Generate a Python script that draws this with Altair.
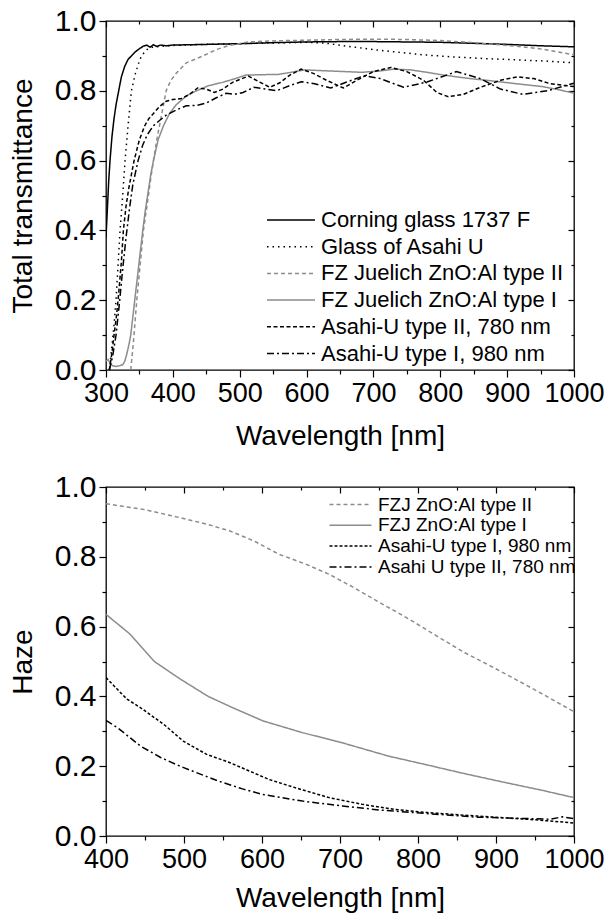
import altair as alt
import pandas as pd

FONT = "Liberation Sans"

# ---------------- Top panel: total transmittance ----------------
top_labels = ["Corning glass 1737 F", "Glass of Asahi U", "FZ Juelich ZnO:Al type II",
              "FZ Juelich ZnO:Al type I", "Asahi-U type II, 780 nm", "Asahi-U type I, 980 nm"]
top_colors = ["#000000", "#000000", "#8c8c8c", "#8c8c8c", "#000000", "#000000"]
top_dashes = [[1, 0], [1.5, 4], [4, 3], [1, 0], [4, 2.5], [7, 3, 2, 3]]

corning_wl = [300, 302, 304, 306, 309, 312, 315, 319, 323, 328, 333, 338, 344, 351, 356, 361, 366, 371,
              376, 381, 390, 400, 450, 500, 550, 600, 650, 700, 750, 800, 850, 900, 950, 1000]
corning_t = [0.38, 0.46, 0.54, 0.60, 0.67, 0.72, 0.76, 0.80, 0.84, 0.87, 0.89, 0.90, 0.912, 0.922, 0.928,
             0.931, 0.925, 0.932, 0.927, 0.931, 0.929, 0.931, 0.933, 0.935, 0.938, 0.940, 0.941, 0.941,
             0.940, 0.939, 0.936, 0.933, 0.929, 0.926]

asahi_glass_wl = [305, 309, 312, 315, 318, 321, 325, 328.5, 333, 338, 344, 349, 353, 361, 370, 385, 400,
                  450, 500, 550, 600, 627, 660, 700, 740, 775, 820, 870, 923, 960, 1000]
asahi_glass_t = [0.0, 0.07, 0.13, 0.2, 0.3, 0.4, 0.5, 0.6, 0.7, 0.8, 0.85, 0.88, 0.9, 0.918, 0.925, 0.928,
                 0.93, 0.933, 0.935, 0.937, 0.939, 0.937, 0.928, 0.918, 0.91, 0.903, 0.897, 0.892, 0.888,
                 0.885, 0.88]

fzj2_wl = [337, 341, 346, 351, 356, 362, 367, 371, 376, 380, 385, 390, 397, 405, 420, 445, 465, 484, 513,
           550, 600, 650, 700, 750, 800, 850, 900, 923, 950, 975, 1000]
fzj2_t = [0.0, 0.08, 0.2, 0.3, 0.4, 0.48, 0.55, 0.6, 0.66, 0.7, 0.75, 0.8, 0.83, 0.85, 0.88, 0.9, 0.918,
          0.93, 0.94, 0.943, 0.945, 0.947, 0.948, 0.947, 0.944, 0.938, 0.93, 0.926, 0.92, 0.912, 0.903]

fzj1_wl = [300, 303, 306, 310, 315, 320, 325, 328, 331, 334, 337, 340, 343, 346, 349, 352, 355, 359, 363,
           367, 371, 378, 386, 395, 405, 420, 435, 454, 474, 490, 509, 530, 558, 580, 597, 620, 657, 682,
           705, 731, 755, 780, 805, 840, 879, 915, 953, 980, 1000]
fzj1_t = [0.025, 0.03, 0.02, 0.012, 0.01, 0.012, 0.015, 0.025, 0.045, 0.07, 0.1, 0.15, 0.2, 0.25, 0.3,
          0.35, 0.4, 0.46, 0.51, 0.56, 0.6, 0.66, 0.7, 0.735, 0.76, 0.785, 0.8, 0.815, 0.824, 0.833, 0.845,
          0.846, 0.847, 0.854, 0.86, 0.858, 0.855, 0.853, 0.856, 0.862, 0.86, 0.853, 0.845, 0.836, 0.828,
          0.82, 0.812, 0.802, 0.793]

asahi780_wl = [305, 309, 312, 316, 319, 323, 326, 330, 334, 338, 342, 350, 358, 364, 371, 380, 390, 400,
               413, 425, 437, 450, 462, 475, 490, 513, 530, 545, 560, 575, 592, 610, 630, 655, 675, 700,
               726, 750, 775, 795, 812, 835, 860, 890, 915, 940, 965, 1000]
asahi780_t = [0.0, 0.05, 0.1, 0.16, 0.22, 0.31, 0.4, 0.47, 0.52, 0.56, 0.6, 0.66, 0.7, 0.72, 0.735, 0.755,
              0.77, 0.775, 0.778, 0.79, 0.808, 0.805, 0.795, 0.805, 0.825, 0.842, 0.825, 0.81, 0.823, 0.845,
              0.862, 0.85, 0.83, 0.808, 0.83, 0.855, 0.867, 0.855, 0.83, 0.795, 0.783, 0.79, 0.81, 0.83,
              0.84, 0.835, 0.82, 0.812]

asahi980_wl = [305, 310, 315, 320, 325, 330, 335, 340, 348, 355, 362, 371, 380, 390, 405, 420, 435, 450,
               465, 480, 492, 505, 521, 538, 555, 575, 592, 612, 636, 660, 686, 710, 745, 780, 824, 860,
               890, 923, 960, 1000]
asahi980_t = [0.0, 0.04, 0.1, 0.19, 0.29, 0.38, 0.46, 0.53, 0.6, 0.645, 0.675, 0.7, 0.715, 0.73, 0.745,
              0.757, 0.758, 0.765, 0.78, 0.793, 0.79, 0.795, 0.81, 0.805, 0.8, 0.815, 0.826, 0.82, 0.808,
              0.825, 0.843, 0.835, 0.81, 0.825, 0.855, 0.835, 0.805, 0.79, 0.8, 0.822]

# ---------------- Bottom panel: haze ----------------
bot_labels = ["FZJ ZnO:Al type II", "FZJ ZnO:Al type I", "Asahi-U type I, 980 nm", "Asahi U type II, 780 nm"]
bot_colors = ["#8c8c8c", "#8c8c8c", "#000000", "#000000"]
bot_dashes = [[4, 3], [1, 0], [3, 2], [7, 3, 2, 3]]

b_fzj2_wl = [400, 450, 495, 530, 559, 590, 622, 655, 686, 715, 742, 770, 797, 830, 860, 888, 920, 957, 1000]
b_fzj2_h = [0.952, 0.935, 0.912, 0.893, 0.874, 0.845, 0.807, 0.78, 0.75, 0.715, 0.68, 0.645, 0.61, 0.565,
            0.525, 0.493, 0.455, 0.41, 0.356]

b_fzj1_wl = [400, 430, 462, 495, 531, 560, 601, 652, 703, 762, 813, 855, 906, 959, 1000]
b_fzj1_h = [0.635, 0.58, 0.5, 0.45, 0.4, 0.37, 0.33, 0.296, 0.267, 0.229, 0.203, 0.181, 0.156, 0.131, 0.11]

b_asahi980_wl = [400, 419, 427, 444, 474, 499, 529, 559, 584, 609, 643, 686, 728, 770, 813, 876, 940, 975, 1000]
b_asahi980_h = [0.454, 0.41, 0.392, 0.368, 0.32, 0.272, 0.234, 0.21, 0.186, 0.162, 0.138, 0.11, 0.091,
                0.076, 0.067, 0.057, 0.048, 0.042, 0.037]

b_asahi780_wl = [400, 415, 444, 470, 495, 520, 546, 575, 601, 652, 703, 753, 813, 876, 940, 970, 985, 1000]
b_asahi780_h = [0.331, 0.31, 0.258, 0.225, 0.2, 0.178, 0.156, 0.135, 0.119, 0.1, 0.086, 0.074, 0.064,
                0.054, 0.05, 0.048, 0.055, 0.05]

y_major = [0.0, 0.2, 0.4, 0.6, 0.8, 1.0]
y_minor = [0.1, 0.3, 0.5, 0.7, 0.9]
top_x_major = [300, 400, 500, 600, 700, 800, 900, 1000]
top_x_minor = [350, 450, 550, 650, 750, 850, 950]
bot_x_major = [400, 500, 600, 700, 800, 900, 1000]
bot_x_minor = [450, 550, 650, 750, 850, 950]


def long_frame(pairs, labels, key):
    rows = []
    for (wl, v), lab in zip(pairs, labels):
        for a, b in zip(wl, v):
            rows.append({"wl": a, "val": b, key: lab})
    return pd.DataFrame(rows)


df_top = long_frame([(corning_wl, corning_t), (asahi_glass_wl, asahi_glass_t), (fzj2_wl, fzj2_t),
                     (fzj1_wl, fzj1_t), (asahi780_wl, asahi780_t), (asahi980_wl, asahi980_t)],
                    top_labels, "sample")
df_bot = long_frame([(b_fzj2_wl, b_fzj2_h), (b_fzj1_wl, b_fzj1_h), (b_asahi980_wl, b_asahi980_h),
                     (b_asahi780_wl, b_asahi780_h)], bot_labels, "film")

W, H = 468, 349


def panel(df, key, labels, colors, dashes, xdom, xmaj, xmin, ytitle, leg, xtitle_pad):
    xs = alt.Scale(domain=xdom, nice=False, zero=False)
    ys = alt.Scale(domain=[0, 1], nice=False, zero=False)
    base = alt.Chart(df)
    lines = base.mark_line(strokeWidth=1.5, clip=True).encode(
        x=alt.X("wl:Q", scale=xs,
                axis=alt.Axis(orient="bottom", values=xmaj, tickSize=7, title="Wavelength [nm]",
                              labelPadding=3, titlePadding=xtitle_pad, format="d")),
        y=alt.Y("val:Q", scale=ys,
                axis=alt.Axis(orient="left", values=y_major, tickSize=7, title=ytitle, format=".1f",
                              labelPadding=3, titlePadding=17, labelFontSize=30)),
        color=alt.Color(f"{key}:N", scale=alt.Scale(domain=labels, range=colors), legend=leg),
        strokeDash=alt.StrokeDash(f"{key}:N", scale=alt.Scale(domain=labels, range=dashes), legend=leg),
    )

    def ax_layer(xaxis, yaxis):
        return base.mark_line(strokeOpacity=0).encode(
            x=alt.X("wl:Q", scale=xs, axis=xaxis),
            y=alt.Y("val:Q", scale=ys, axis=yaxis),
            detail=f"{key}:N",
        )

    l_minor = ax_layer(alt.Axis(orient="bottom", values=xmin, tickSize=4, labels=False, title=None),
                       alt.Axis(orient="left", values=y_minor, tickSize=4, labels=False, title=None))
    l_mirror = ax_layer(
        alt.Axis(orient="top", values=xmaj, tickSize=alt.ExprRef(expr="-6"), labels=False, title=None,
                 minExtent=0),
        alt.Axis(orient="right", values=y_major, tickSize=alt.ExprRef(expr="-6"), labels=False, title=None,
                 minExtent=0))
    l_mirror_minor = ax_layer(
        alt.Axis(orient="top", values=xmin, tickSize=alt.ExprRef(expr="-3"), labels=False, title=None,
                 minExtent=0),
        alt.Axis(orient="right", values=y_minor, tickSize=alt.ExprRef(expr="-3"), labels=False, title=None,
                 minExtent=0))
    return alt.layer(lines, l_minor, l_mirror, l_mirror_minor).resolve_axis(
        x="independent", y="independent").properties(width=W, height=H)


top_leg = alt.Legend(title=None, orient="none", legendX=174, legendY=188, symbolType="M-4.8,0H4.8",
                     symbolSize=100, symbolStrokeWidth=1.5, labelFontSize=22, labelOffset=19,
                     rowPadding=4.7, padding=0, labelLimit=400, labelFont=FONT)
bot_leg = alt.Legend(title=None, orient="none", legendX=235, legendY=8, symbolType="M-4.2,0H4.2",
                     symbolSize=100, symbolStrokeWidth=1.5, labelFontSize=19, labelOffset=18,
                     rowPadding=0.8, padding=0, labelLimit=400, labelFont=FONT)

top = panel(df_top, "sample", top_labels, top_colors, top_dashes, [300, 1000], top_x_major, top_x_minor,
            "Total transmittance", top_leg, 16)
bot = panel(df_bot, "film", bot_labels, bot_colors, bot_dashes, [400, 1000], bot_x_major, bot_x_minor,
            "Haze", bot_leg, 12)

chart = alt.vconcat(top, bot, spacing=20).resolve_scale(
    color="independent", strokeDash="independent"
).properties(
    padding={"left": 0, "top": -3, "right": 0, "bottom": 0}
).configure_axis(
    labelFont=FONT, titleFont=FONT, labelFontSize=27, titleFontSize=28, titleFontWeight="normal",
    labelColor="black", titleColor="black", tickColor="black", tickWidth=1.2, grid=False, domain=False,
    labelFlush=False, labelOverlap=False
).configure_view(stroke="black", strokeWidth=1.3).configure_legend(labelColor="black")

chart.save("out.html", embed_options={"renderer": "svg", "actions": False})
